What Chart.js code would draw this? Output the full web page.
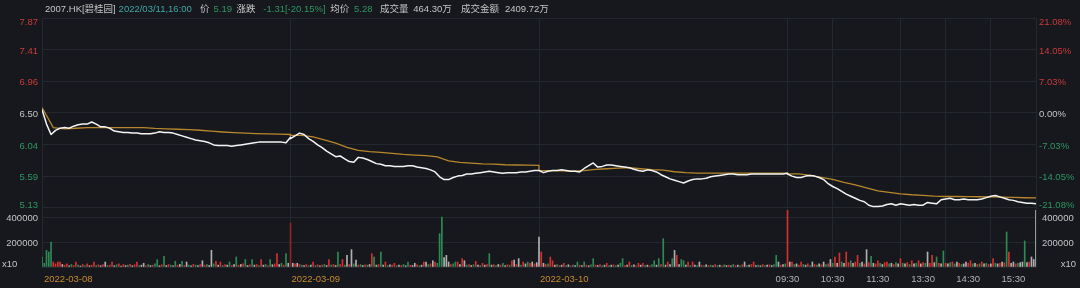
<!DOCTYPE html>
<html>
<head>
<meta charset="utf-8">
<script src="https://cdn.jsdelivr.net/npm/chart.js@4.4.1/dist/chart.umd.min.js"></script>
<style>
  html, body { margin: 0; padding: 0; background: #16181d; }
  #wrap { width: 1080px; height: 288px; }
</style>
</head>
<body>
<div id="wrap"><canvas id="chart" width="1080" height="288"></canvas></div>
<script>
// ---- data (4 trading days, 330 trading minutes each) ----
const dayLabels = ['2022-03-08', '2022-03-09', '2022-03-10'];
const timeLabels = ['09:30', '10:30', '11:30', '13:30', '14:30', '15:30'];
const timeMinutes = [990, 1050, 1110, 1170, 1230, 1290];
const dayStartMinutes = [0, 330, 660, 990];

const prevClose = 6.50;
const priceTicks = [7.87, 7.41, 6.96, 6.50, 6.04, 5.59, 5.13];
const pctLabels = ['21.08%', '14.05%', '7.03%', '0.00%', '-7.03%', '-14.05%', '-21.08%'];
const volTicks = [400000, 200000, 0];
const volTickLabels = ['400000', '200000', 'x10'];

// price every 6 minutes
const price0308 = [6.55, 6.34, 6.19, 6.25, 6.28, 6.29, 6.28, 6.31, 6.33, 6.34,
  6.34, 6.37, 6.34, 6.30, 6.30, 6.28, 6.24, 6.23, 6.22, 6.22,
  6.21, 6.21, 6.20, 6.20, 6.20, 6.21, 6.23, 6.22, 6.22, 6.21,
  6.19, 6.17, 6.15, 6.13, 6.11, 6.10, 6.09, 6.07, 6.04, 6.03,
  6.03, 6.03, 6.02, 6.03, 6.04, 6.05, 6.06, 6.07, 6.08, 6.08,
  6.08, 6.08, 6.08, 6.08, 6.07, 6.15];
const price0309 = [6.13, 6.17, 6.21, 6.19, 6.13, 6.09, 6.04, 6.00, 5.95, 5.91,
  5.87, 5.88, 5.84, 5.80, 5.79, 5.86, 5.85, 5.83, 5.80, 5.77,
  5.76, 5.74, 5.74, 5.73, 5.73, 5.73, 5.74, 5.74, 5.72, 5.71,
  5.70, 5.68, 5.65, 5.58, 5.54, 5.54, 5.57, 5.59, 5.60, 5.62,
  5.62, 5.63, 5.64, 5.65, 5.66, 5.65, 5.64, 5.63, 5.64, 5.64,
  5.64, 5.65, 5.65, 5.66, 5.67, 5.67];
const price0310 = [5.67, 5.64, 5.66, 5.67, 5.67, 5.68, 5.67, 5.66, 5.66, 5.65,
  5.70, 5.74, 5.78, 5.72, 5.73, 5.75, 5.75, 5.74, 5.73, 5.72,
  5.71, 5.69, 5.67, 5.66, 5.68, 5.67, 5.65, 5.61, 5.58, 5.55,
  5.53, 5.51, 5.49, 5.52, 5.54, 5.55, 5.55, 5.56, 5.58, 5.59,
  5.60, 5.61, 5.62, 5.62, 5.61, 5.61, 5.61, 5.62, 5.62, 5.62,
  5.62, 5.62, 5.62, 5.62, 5.62, 5.63];
const price0311 = [5.62, 5.59, 5.57, 5.57, 5.59, 5.60, 5.59, 5.57, 5.54, 5.48,
  5.44, 5.41, 5.37, 5.33, 5.30, 5.27, 5.24, 5.22, 5.17, 5.15,
  5.15, 5.16, 5.18, 5.19, 5.17, 5.19, 5.18, 5.17, 5.18, 5.17,
  5.17, 5.21, 5.20, 5.19, 5.25, 5.26, 5.27, 5.25, 5.25, 5.26,
  5.25, 5.25, 5.25, 5.26, 5.28, 5.30, 5.31, 5.29, 5.27, 5.25,
  5.24, 5.22, 5.21, 5.20, 5.20, 5.19];

// average price every 15 minutes
const avg0308 = [6.580, 6.290, 6.270, 6.280, 6.290, 6.290, 6.290, 6.290, 6.290, 6.288, 6.277, 6.270,
  6.266, 6.260, 6.251, 6.238, 6.226, 6.216, 6.209, 6.204, 6.200, 6.194, 6.190];
const avg0309 = [6.178, 6.178, 6.156, 6.113, 6.066, 6.004, 5.961, 5.942, 5.932, 5.918, 5.903, 5.893,
  5.884, 5.867, 5.809, 5.788, 5.776, 5.767, 5.762, 5.754, 5.750, 5.747, 5.744];
const avg0310 = [5.670, 5.668, 5.665, 5.663, 5.670, 5.686, 5.696, 5.704, 5.711, 5.696, 5.682, 5.675,
  5.653, 5.639, 5.634, 5.633, 5.633, 5.633, 5.633, 5.633, 5.633, 5.633, 5.633];
const avg0311 = [5.621, 5.621, 5.600, 5.571, 5.542, 5.499, 5.463, 5.419, 5.376, 5.354, 5.335, 5.321,
  5.311, 5.301, 5.296, 5.296, 5.293, 5.292, 5.289, 5.286, 5.282, 5.278, 5.275];

// volume every 3 minutes, colour: r up, d up (dark), g down, w flat
const vol0308 = [80000, 30000, 134000, 120000, 200000, 40000, 25000, 40000, 40000, 20000,
  15000, 25000, 10000, 20000, 12000, 40000, 15000, 8000, 20000, 12000,
  25000, 10000, 15000, 40000, 12000, 18000, 10000, 20000, 40000, 12000,
  15000, 39000, 10000, 18000, 25000, 8000, 20000, 12000, 15000, 22000,
  10000, 18000, 39000, 12000, 15000, 30000, 10000, 20000, 12000, 15000,
  25000, 59000, 10000, 18000, 85000, 12000, 20000, 15000, 10000, 46000,
  15000, 20000, 46000, 12000, 40000, 15000, 10000, 22000, 15000, 12000,
  20000, 50000, 15000, 20000, 12000, 134000, 25000, 46000, 15000, 40000,
  12000, 20000, 15000, 40000, 12000, 20000, 80000, 15000, 20000, 25000,
  60000, 12000, 18000, 60000, 15000, 20000, 12000, 60000, 15000, 20000,
  12000, 60000, 18000, 25000, 107000, 20000, 30000, 15000, 107000, 30000];
const vol0309 = [352000, 30000, 25000, 30000, 20000, 15000, 12000, 20000, 10000, 15000,
  40000, 12000, 18000, 10000, 15000, 20000, 12000, 60000, 15000, 20000,
  12000, 120000, 20000, 60000, 15000, 93000, 20000, 139000, 25000, 55000,
  15000, 20000, 12000, 18000, 15000, 20000, 107000, 80000, 15000, 20000,
  120000, 15000, 40000, 12000, 18000, 15000, 30000, 10000, 15000, 12000,
  20000, 10000, 40000, 15000, 12000, 30000, 18000, 10000, 15000, 40000,
  40000, 20000, 25000, 50000, 40000, 30000, 267000, 400000, 75000, 93000,
  40000, 20000, 25000, 40000, 40000, 20000, 67000, 50000, 15000, 20000,
  12000, 18000, 45000, 15000, 12000, 30000, 15000, 20000, 107000, 15000,
  18000, 12000, 20000, 15000, 30000, 12000, 18000, 15000, 50000, 55000,
  20000, 67000, 15000, 40000, 25000, 40000, 30000, 40000, 25000, 35000];
const vol0310 = [240000, 120000, 30000, 20000, 25000, 80000, 50000, 15000, 20000, 12000,
  15000, 30000, 12000, 18000, 10000, 15000, 12000, 40000, 15000, 12000,
  40000, 15000, 10000, 18000, 67000, 15000, 12000, 20000, 10000, 15000,
  30000, 12000, 15000, 18000, 10000, 15000, 30000, 67000, 12000, 15000,
  40000, 12000, 18000, 10000, 30000, 15000, 30000, 12000, 15000, 10000,
  20000, 50000, 15000, 67000, 20000, 227000, 15000, 40000, 20000, 67000,
  133000, 93000, 20000, 60000, 50000, 15000, 40000, 12000, 40000, 15000,
  12000, 40000, 15000, 10000, 18000, 12000, 15000, 10000, 20000, 12000,
  15000, 10000, 18000, 12000, 15000, 10000, 20000, 12000, 15000, 10000,
  18000, 40000, 12000, 15000, 20000, 40000, 12000, 15000, 10000, 20000,
  12000, 15000, 18000, 12000, 20000, 93000, 40000, 15000, 20000, 25000];
const vol0311 = [453000, 40000, 40000, 20000, 25000, 15000, 40000, 20000, 15000, 25000,
  12000, 40000, 20000, 15000, 25000, 18000, 40000, 20000, 25000, 60000,
  30000, 80000, 30000, 112000, 40000, 30000, 120000, 35000, 50000, 30000,
  40000, 93000, 30000, 40000, 25000, 139000, 35000, 85000, 30000, 25000,
  50000, 30000, 20000, 35000, 40000, 25000, 30000, 20000, 35000, 25000,
  67000, 30000, 25000, 35000, 20000, 50000, 25000, 30000, 50000, 25000,
  35000, 30000, 120000, 30000, 93000, 35000, 80000, 30000, 25000, 128000,
  30000, 25000, 35000, 40000, 25000, 40000, 30000, 20000, 25000, 40000,
  30000, 50000, 25000, 30000, 20000, 25000, 40000, 25000, 30000, 20000,
  25000, 67000, 30000, 25000, 30000, 40000, 35000, 280000, 120000, 30000,
  40000, 25000, 30000, 35000, 40000, 208000, 35000, 40000, 80000, 60000, 453000];
const volDir0308 = 'gggggrrrrw' + 'rrwgrrgwrg' + 'rwrrgrwrwg' + 'rrwgrwrwgr' + 'wrrgwwrgwr' +
  'ggwrgwrgwg' + 'rwgrwgwrgw' + 'rwrgwwgrwr' + 'grwgrwgrwr' + 'gwrgwrgrwg' + 'rgwrrwgrgw';
const volDir0309 = 'dwrwrgwrgw' + 'rgrwrgwrgr' + 'wgrrgwrwgw' + 'rgwrgwrgwr' + 'gwrgwrrgwr' +
  'gwgrwwrgwr' + 'wgrwrgggww' + 'wrggrwrwgr' + 'wgrwgrwrgw' + 'rgwrgwrgrw' + 'rwgrwgrwrw';
const volDir0310 = 'wrwrgrrwgr' + 'wrgwrgwgrw' + 'grwggrwrgw' + 'rgwrgwggrw' + 'rgwrrwrgwr' +
  'ggwgrgwrwg' + 'wrwggwrgrw' + 'gwrgwrgwrg' + 'wrgwrwgrwg' + 'rwgwrrwgwr' + 'gwrwggwrwg';
const volDir0311 = 'rwrgwrrgwr' + 'gwrgwrwgrw' + 'grwrgwrrgw' + 'rrgwrwrgwr' + 'rgwrrgwrgw' +
  'rgwrgrwgrw' + 'rgwrrwgrwg' + 'rwgrgwrgww' + 'rrgwrgrwgr' + 'wrgwrwrgrw' + 'wrgwwgwrwww';

// ---- layout / style ----
const MIN_PER_DAY = 330;
const PRICE_PANE = 190;   // px, 7.87 .. 5.13
const VOL_PANE = 59;      // px, below the price pane
const VOL_PER_PX = 8000;
const FONT = '9.5px "Liberation Sans", Arial, "Noto Sans CJK SC", sans-serif';
const BG = '#16181d';
const GRID = '#23272e';
const RED = '#c93a3a';
const GREEN = '#2e9660';
const GRAY = '#c4c4c4';
const volColorMap = { r: '#d8302e', d: '#8e2424', g: '#2d8a55', w: '#b0b0b0' };

const priceDays = [price0308, price0309, price0310, price0311];
const avgDays = [avg0308, avg0309, avg0310, avg0311];
const volDays = [vol0308, vol0309, vol0310, vol0311];
const volDirDays = [volDir0308, volDir0309, volDir0310, volDir0311];

const pricePoints = [];
priceDays.forEach((arr, d) => arr.forEach((v, i) => pricePoints.push({ x: d * MIN_PER_DAY + i * 6, y: v })));
const avgPoints = [];
avgDays.forEach((arr, d) => arr.forEach((v, i) => avgPoints.push({ x: d * MIN_PER_DAY + i * 15, y: v })));
const volPoints = [];
const volColors = [];
volDays.forEach((arr, d) => arr.forEach((v, i) => {
  volPoints.push({ x: d * MIN_PER_DAY + i * 3, y: v });
  volColors.push(volColorMap[volDirDays[d][i]]);
}));

// vertical grid: day starts, then 10:30, 12:00/13:00, 14:00, 15:00 on the last day
const gridMinutes = [0, 330, 660, 990, 1050, 1140, 1200, 1260, 1320];

const headerParts = [
  [45, '2007.HK[碧桂园]', GRAY], [118.6, '2022/03/11,16:00', '#3fa6a4'],
  [200, '价', GRAY], [213.5, '5.19', GREEN], [236.5, '涨跌', GRAY],
  [263.3, '-1.31[-20.15%]', GREEN], [330.3, '均价', GRAY], [354, '5.28', GREEN],
  [380, '成交量', GRAY], [413.3, '464.30万', GRAY], [461, '成交金额', GRAY], [505, '2409.72万', GRAY]
];

const textPlugin = {
  id: 'textPlugin',
  beforeDraw(chart) {
    const ctx = chart.ctx;
    ctx.save();
    ctx.fillStyle = BG;
    ctx.fillRect(0, 0, chart.width, chart.height);
    ctx.restore();
  },
  afterDraw(chart) {
    const { ctx, scales } = chart;
    const { x, y, yv } = scales;
    ctx.save();
    ctx.font = FONT;
    ctx.textBaseline = 'middle';

    // header line
    ctx.textAlign = 'left';
    headerParts.forEach(([px, txt, col]) => {
      ctx.fillStyle = col;
      ctx.fillText(txt, px, 9);
    });

    // price and percent labels
    priceTicks.forEach((v, i) => {
      let py = y.getPixelForValue(v) + 1;
      if (i === 0) py += 3;
      if (i === priceTicks.length - 1) py -= 3.5;
      ctx.fillStyle = v > prevClose ? RED : (v < prevClose ? GREEN : GRAY);
      ctx.textAlign = 'right';
      ctx.fillText(v.toFixed(2), 38, py);
      ctx.textAlign = 'left';
      ctx.fillText(pctLabels[i], 1039, py);
    });

    // volume labels
    ctx.fillStyle = GRAY;
    volTicks.forEach((v, i) => {
      const py = v === 0 ? yv.getPixelForValue(v) - 2.5 : yv.getPixelForValue(v) + 1;
      if (v === 0) {
        ctx.textAlign = 'left';
        ctx.fillText(volTickLabels[i], 2, py);
        ctx.textAlign = 'right';
        ctx.fillText(volTickLabels[i], 1076, py);
      } else {
        ctx.textAlign = 'right';
        ctx.fillText(volTickLabels[i], 38, py);
        ctx.textAlign = 'left';
        ctx.fillText(volTickLabels[i], 1042, py);
      }
    });

    // x labels
    ctx.fillStyle = '#c58a2e';
    ctx.textAlign = 'left';
    dayLabels.forEach((lbl, i) => {
      ctx.fillText(lbl, x.getPixelForValue(dayStartMinutes[i]) + (i === 0 ? 2 : 1), 279.5);
    });
    ctx.fillStyle = '#b2b2b2';
    ctx.textAlign = 'center';
    timeLabels.forEach((lbl, i) => {
      ctx.fillText(lbl, x.getPixelForValue(timeMinutes[i]), 279.5);
    });
    ctx.restore();
  }
};

const ctx = document.getElementById('chart').getContext('2d');
new Chart(ctx, {
  type: 'line',
  data: {
    datasets: [
      {
        label: '价格', data: pricePoints, yAxisID: 'y',
        borderColor: '#f4f4f4', borderWidth: 1.5, pointRadius: 0, tension: 0, borderJoinStyle: 'round'
      },
      {
        label: '均价', data: avgPoints, yAxisID: 'y',
        borderColor: '#b8862c', borderWidth: 1.3, pointRadius: 0, tension: 0
      },
      {
        type: 'bar', label: '成交量', data: volPoints, yAxisID: 'yv',
        backgroundColor: volColors, barThickness: 1, borderWidth: 0
      }
    ]
  },
  options: {
    responsive: false,
    animation: false,
    layout: { padding: { top: 18, left: 0, right: 0, bottom: 0 } },
    plugins: { legend: { display: false }, tooltip: { enabled: false } },
    scales: {
      x: {
        type: 'linear', min: 0, max: MIN_PER_DAY * 4, offset: false,
        afterBuildTicks: s => { s.ticks = gridMinutes.map(v => ({ value: v })); },
        afterFit: s => { s.height = 21; },
        ticks: { display: false },
        grid: { color: GRID, drawTicks: false, offset: false },
        border: { display: false }
      },
      y: {
        position: 'left',
        max: priceTicks[0],
        min: priceTicks[6] - (VOL_PANE / PRICE_PANE) * (priceTicks[0] - priceTicks[6]),
        afterBuildTicks: s => { s.ticks = priceTicks.map(v => ({ value: v })); },
        afterFit: s => { s.width = 42; },
        ticks: { display: false },
        grid: { color: GRID, drawTicks: false },
        border: { display: true, color: GRID }
      },
      yv: {
        position: 'right',
        min: 0,
        max: (PRICE_PANE + VOL_PANE) * VOL_PER_PX,
        afterBuildTicks: s => { s.ticks = volTicks.map(v => ({ value: v })); },
        afterFit: s => { s.width = 44; },
        ticks: { display: false },
        grid: { color: GRID, drawTicks: false },
        border: { display: true, color: GRID }
      }
    }
  },
  plugins: [textPlugin]
});
</script>
</body>
</html>
